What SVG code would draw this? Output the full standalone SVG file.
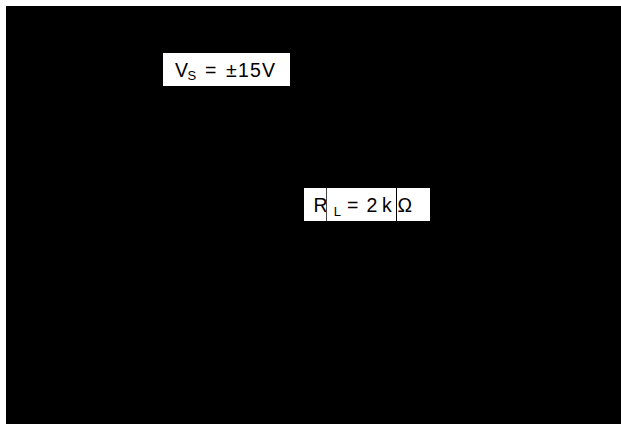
<svg xmlns="http://www.w3.org/2000/svg" width="621" height="424" viewBox="0 0 621 424">
<style>
.t{font-family:"Liberation Sans",Arial,sans-serif;font-size:19.5px;fill:#000}
.s{font-family:"Liberation Sans",Arial,sans-serif;font-size:13px;fill:#000}
.box{fill:#fff;stroke:none}
</style>
<rect x="0" y="0" width="621" height="424" fill="#fff"/>
<rect x="6" y="6" width="615" height="418" fill="#000"/>
<g id="label-vs">
<rect class="box" x="163" y="53" width="127" height="33"/>
<text class="t" x="175" y="76.5">V</text>
<text class="s" x="187.5" y="80">S</text>
<text class="t" x="205" y="76.5">=</text>
<text class="t" x="226" y="76.5" textLength="49" lengthAdjust="spacing">±15V</text>
</g>
<g id="label-rl">
<rect class="box" x="304" y="188" width="126" height="33"/>
<text class="t" x="313.5" y="212.3">R</text>
<text class="s" x="333.8" y="216">L</text>
<text class="t" x="347" y="212.3">=</text>
<text class="t" x="366.5" y="212.3">2</text>
<text class="t" x="382" y="212.3">k</text>
<text class="t" x="397.5" y="212.3">Ω</text>
</g>
<g id="connectors">
<line x1="326.5" y1="188" x2="326.5" y2="221" stroke="#444" stroke-width="1"/>
<line x1="396.5" y1="188" x2="396.5" y2="221" stroke="#000" stroke-width="1"/>
</g>
</svg>
